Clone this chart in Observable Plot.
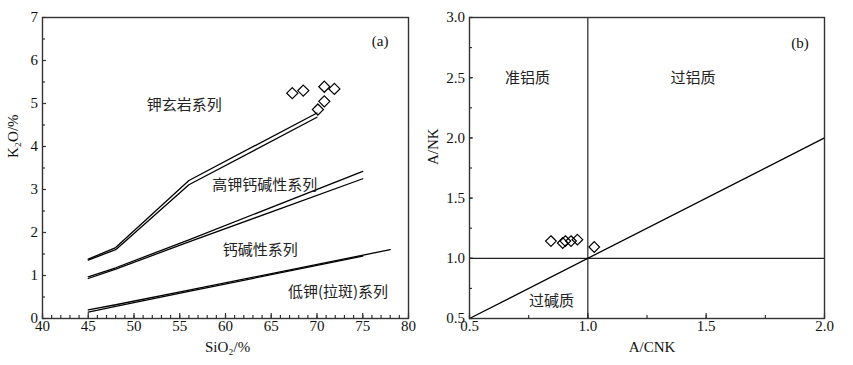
<!DOCTYPE html>
<html><head><meta charset="utf-8">
<script src="https://cdn.jsdelivr.net/npm/d3@7"></script>
<script src="https://cdn.jsdelivr.net/npm/@observablehq/plot@0.6"></script>
<style>
html,body{margin:0;padding:0;background:#fff;}
#wrap{position:relative;width:853px;height:365px;overflow:hidden;background:#fff;}
#a{position:absolute;left:0;top:0;width:420px;}
#b{position:absolute;left:420px;top:0;width:415px;height:365px;overflow:hidden;}
#wrap svg{max-width:none !important;}
</style></head><body>
<div id="wrap"><div id="a"></div><div id="b"></div></div>
<script>
// ---------- Panel (a): SiO2 vs K2O ----------
const siO2Ticks = [40, 45, 50, 55, 60, 65, 70, 75, 80];
const siO2Minor = [40,41,42,43,44,45,46,47,48,49,50,51,52,53,54,55,56,57,58,59,60,61,62,63,64,65,66,67,68,69,70,71,72,73,74,75,76,77,78,79,80];
const k2oTicks = [0, 1, 2, 3, 4, 5, 6, 7];
const k2oMinor = [0.5, 1.5, 2.5, 3.5, 4.5, 5.5, 6.5];

// boundary lines (each boundary drawn twice)
const shoshoniteA = [[45, 1.38], [48, 1.65], [56, 3.21], [70, 4.78]];
const shoshoniteB = [[45, 1.36], [48, 1.60], [56, 3.11], [70, 4.68]];
const highKA = [[45, 0.97], [48, 1.18], [56, 1.83], [75, 3.42]];
const highKB = [[45, 0.93], [48, 1.15], [56, 1.78], [75, 3.25]];
const lowKA = [[45, 0.20], [48, 0.32], [56, 0.66], [78, 1.60]];
const lowKB = [[45, 0.15], [48, 0.28], [56, 0.63], [75, 1.45]];

const sampleSiO2 = [67.3, 68.5, 70.8, 71.9, 70.8, 70.1];
const sampleK2O  = [5.24, 5.30, 5.39, 5.34, 5.05, 4.86];

const seriesNames = ["钾玄岩系列", "高钾钙碱性系列", "钙碱性系列", "低钾(拉斑)系列"];
const seriesLabelX = [55.5, 64.3, 63.8, 72.3];
const seriesLabelY = [4.97, 3.11, 1.60, 0.61];

// ---------- Panel (b): A/CNK vs A/NK ----------
const acnkTicks = [0.5, 1.0, 1.5, 2.0];
const acnkMinor = [0.5, 0.75, 1.0, 1.25, 1.5, 1.75, 2.0];
const ankTicks = [0.5, 1.0, 1.5, 2.0, 2.5, 3.0];
const ankMinor = [0.5, 0.75, 1.0, 1.25, 1.5, 1.75, 2.0, 2.25, 2.5, 2.75, 3.0];
const acnkBoundary = [1.0];
const ankBoundary = [1.0];
const diagonal = [[0.5, 0.5], [2.0, 2.0]];

const sampleACNK = [0.844, 0.894, 0.905, 0.929, 0.956, 1.027];
const sampleANK  = [1.143, 1.127, 1.143, 1.143, 1.155, 1.094];

const fieldNames = ["准铝质", "过铝质", "过碱质"];
const fieldX = [0.745, 1.444, 0.847];
const fieldY = [2.496, 2.496, 0.645];

// ---------- build tables ----------
const boundaryLines = [
  ["shoA", shoshoniteA], ["shoB", shoshoniteB],
  ["hkA", highKA], ["hkB", highKB],
  ["lkA", lowKA], ["lkB", lowKB]
].flatMap(([id, pts]) => pts.map(([x, y]) => ({id, x, y})));
const samplesA = sampleSiO2.map((x, i) => ({x, y: sampleK2O[i]}));
const labelsA = seriesNames.map((t, i) => ({t, x: seriesLabelX[i], y: seriesLabelY[i]}));
const samplesB = sampleACNK.map((x, i) => ({x, y: sampleANK[i]}));
const labelsB = fieldNames.map((t, i) => ({t, x: fieldX[i], y: fieldY[i]}));

const serif = "'Liberation Serif', 'Times New Roman', serif";
const cjk = "'Noto Sans CJK SC', sans-serif";
const axisColor = "#333";
const ink = "#111";

function tickAxes(xMajor, xMinor, yMajor, yMinor, fmt) {
  return [
    Plot.axisX(xMajor, {anchor: "bottom", tickSize: -5, tickFormat: () => "", label: null, stroke: axisColor, strokeWidth: 1.2}),
    Plot.axisX(xMinor, {anchor: "bottom", tickSize: -3, tickFormat: () => "", label: null, stroke: axisColor, strokeWidth: 1.2}),
    Plot.axisY(yMajor, {anchor: "left", tickSize: -4, tickFormat: () => "", label: null, stroke: axisColor, strokeWidth: 1.2}),
    Plot.axisY(yMinor, {anchor: "left", tickSize: -3, tickFormat: () => "", label: null, stroke: axisColor, strokeWidth: 1.2}),
    Plot.axisX(xMajor, {anchor: "bottom", tickSize: 0, tickPadding: 2, tickFormat: fmt, label: null, fontSize: 15, fontFamily: serif, fill: ink}),
    Plot.axisY(yMajor, {anchor: "left", tickSize: 0, tickPadding: 4.5, tickFormat: fmt, label: null, fontSize: 15, fontFamily: serif, fill: ink})
  ];
}

const plotA = Plot.plot({
  width: 420, height: 365,
  marginLeft: 42, marginRight: 12, marginTop: 17, marginBottom: 47,
  x: {domain: [40, 80]},
  y: {domain: [0, 7]},
  style: {background: "#fff", color: ink, fontFamily: serif, fontSize: "15px"},
  marks: [
    ...tickAxes(siO2Ticks, siO2Minor, k2oTicks, k2oMinor, d3.format("d")),
    Plot.line(boundaryLines, {x: "x", y: "y", z: "id", stroke: "#000", strokeWidth: 1.3}),
    Plot.dot(samplesA, {x: "x", y: "y", symbol: "diamond2", r: 5, stroke: "#000", strokeWidth: 1.2, fill: "none"}),
    Plot.text(labelsA, {x: "x", y: "y", text: "t", fontFamily: cjk, fontSize: 15, fill: "#222", textAnchor: "middle", lineAnchor: "middle"}),
    Plot.text(["(a)"], {x: () => 76.9, y: () => 6.44, text: d => d, fontFamily: serif, fontSize: 15, fill: ink, lineAnchor: "middle"}),
    Plot.text(["SiO₂/%"], {frameAnchor: "bottom", dx: 2, dy: 28.5, fontFamily: serif, fontSize: 15, fill: ink, lineAnchor: "middle"}),
    Plot.text(["K₂O/%"], {frameAnchor: "left", rotate: -90, dx: -29, dy: -10, fontFamily: serif, fontSize: 15, fill: ink, lineAnchor: "middle"}),
    Plot.frame({stroke: axisColor, strokeWidth: 1.4})
  ]
});
document.getElementById("a").appendChild(plotA);

const plotB = Plot.plot({
  width: 433, height: 365,
  marginLeft: 49, marginRight: 29, marginTop: 17, marginBottom: 47,
  x: {domain: [0.5, 2.0]},
  y: {domain: [0.5, 3.0]},
  style: {background: "#fff", color: ink, fontFamily: serif, fontSize: "15px"},
  marks: [
    ...tickAxes(acnkTicks, acnkMinor, ankTicks, ankMinor, d3.format(".1f")),
    Plot.ruleX(acnkBoundary, {stroke: "#222", strokeWidth: 1.2}),
    Plot.ruleY(ankBoundary, {stroke: "#222", strokeWidth: 1.2}),
    Plot.line(diagonal, {stroke: "#000", strokeWidth: 1.3}),
    Plot.dot(samplesB, {x: "x", y: "y", symbol: "diamond2", r: 4.8, stroke: "#000", strokeWidth: 1.2, fill: "none"}),
    Plot.text(labelsB, {x: "x", y: "y", text: "t", fontFamily: cjk, fontSize: 15, fill: "#222", textAnchor: "middle", lineAnchor: "middle"}),
    Plot.text(["(b)"], {x: () => 1.896, y: () => 2.79, text: d => d, fontFamily: serif, fontSize: 15, fill: ink, lineAnchor: "middle"}),
    Plot.text(["A/CNK"], {frameAnchor: "bottom", dx: 5, dy: 28.5, fontFamily: serif, fontSize: 15, fill: ink, lineAnchor: "middle"}),
    Plot.text(["A/NK"], {frameAnchor: "left", rotate: -90, dx: -36, dy: -3, fontFamily: serif, fontSize: 15, fill: ink, lineAnchor: "middle"}),
    Plot.frame({stroke: axisColor, strokeWidth: 1.4})
  ]
});
document.getElementById("b").appendChild(plotB);
</script>
</body></html>
